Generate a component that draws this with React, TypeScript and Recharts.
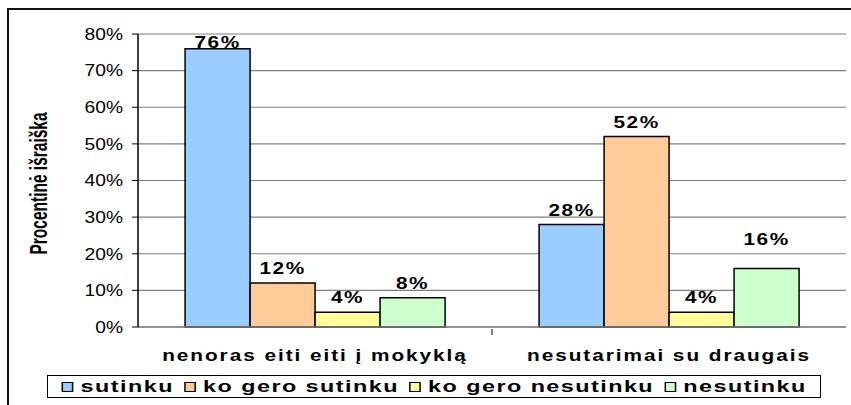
import React from 'react';
import { BarChart, Bar, XAxis, YAxis, CartesianGrid, Legend, LabelList } from 'recharts';

const categories = ['nenoras eiti eiti į mokyklą', 'nesutarimai su draugais'];
const seriesNames = ['sutinku', 'ko gero sutinku', 'ko gero nesutinku', 'nesutinku'];
const sutinku = [76, 28];
const koGeroSutinku = [12, 52];
const koGeroNesutinku = [4, 4];
const nesutinku = [8, 16];
const yTicks = [0, 10, 20, 30, 40, 50, 60, 70, 80];
const yAxisTitle = 'Procentinė išraiška';

// styling only
const colors = ['#99CCFF', '#FFCC99', '#FFFF99', '#CCFFCC'];
const labelGap = [
  [1, 8],
  [9, 9],
  [9, 9],
  [9, 23],
];

const seriesValues = [sutinku, koGeroSutinku, koGeroNesutinku, nesutinku];
const data = categories.map((c, i) => {
  const row: Record<string, string | number> = { name: c };
  seriesNames.forEach((s, j) => {
    row[s] = seriesValues[j][i];
  });
  return row;
});

const FONT = 'Arial, "Liberation Sans", Helvetica, sans-serif';
const SX = 1.3;

const XTick = (props: any) => {
  const { x, y, payload, index } = props;
  const half = payload && typeof payload.offset === 'number' ? payload.offset : 0;
  return (
    <g>
      {index < categories.length - 1 && half > 0 ? (
        <line x1={x + half} x2={x + half} y1={y - 8} y2={y - 2} stroke="#000" strokeWidth={1} />
      ) : null}
      <g transform={`translate(${x},${y + 24}) scale(${SX},1)`}>
        <text
          x={0}
          y={0}
          textAnchor="middle"
          fontFamily={FONT}
          fontWeight="bold"
          fontSize={16}
          letterSpacing={1.5}
          fill="#000"
        >
          {payload.value}
        </text>
      </g>
    </g>
  );
};

const YTick = (props: any) => {
  const { x, y, payload } = props;
  return (
    <g transform={`translate(${x},${y}) scale(1.2,1)`}>
      <text x={0} y={0} dy="0.36em" textAnchor="end" fontFamily={FONT} fontSize={16} fill="#000">
        {`${payload.value}%`}
      </text>
    </g>
  );
};

const YTitle = (props: any) => {
  const { viewBox } = props;
  const cy = viewBox.y + viewBox.height / 2 + 3;
  return (
    <g transform={`translate(39,${cy}) scale(1.5,1) rotate(-90)`}>
      <text
        x={0}
        y={0}
        dy="0.36em"
        textAnchor="middle"
        fontFamily={FONT}
        fontWeight="bold"
        fontSize={15.5}
        fill="#000"
      >
        {yAxisTitle}
      </text>
    </g>
  );
};

const makeLabel = (seriesIdx: number) => (props: any) => {
  const { x, y, width, value, index } = props;
  const gap = labelGap[seriesIdx][index];
  return (
    <g transform={`translate(${x + width / 2},${y - gap}) scale(${SX},1)`}>
      <text
        x={0}
        y={0}
        textAnchor="middle"
        fontFamily={FONT}
        fontWeight="bold"
        fontSize={16}
        letterSpacing={1.2}
        fill="#000"
      >
        {`${value}%`}
      </text>
    </g>
  );
};

const LegendContent = () => (
  <div
    style={{
      border: '1px solid #000',
      width: 774,
      height: 23,
      boxSizing: 'border-box',
      display: 'flex',
      alignItems: 'center',
      justifyContent: 'center',
      background: '#fff',
      overflow: 'hidden',
    }}
  >
    <div
      style={{
        display: 'flex',
        alignItems: 'center',
        transform: 'scaleX(1.46)',
        transformOrigin: 'center',
        fontFamily: FONT,
        fontWeight: 'bold',
        fontSize: 16,
        letterSpacing: 1,
        whiteSpace: 'nowrap',
        lineHeight: '18px',
      }}
    >
      {seriesNames.map((s, i) => (
        <span key={s} style={{ display: 'flex', alignItems: 'center', marginRight: i < 3 ? 7 : 0 }}>
          <span
            style={{
              display: 'inline-block',
              width: 8,
              height: 10,
              border: '1px solid #000',
              background: colors[i],
              marginRight: 5,
              boxSizing: 'border-box',
            }}
          />
          {s}
        </span>
      ))}
    </div>
  </div>
);

export default function App() {
  return (
    <div style={{ position: 'absolute', left: 0, top: 0, width: 851, height: 405, background: '#fff', overflow: 'hidden' }}>
      <div
        style={{
          position: 'absolute',
          left: 7,
          top: 8,
          width: 900,
          height: 500,
          borderTop: '2px solid #111',
          borderLeft: '2px solid #111',
        }}
      />
      <div style={{ position: 'absolute', left: 0, top: 0 }}>
        <BarChart
          width={851}
          height={405}
          data={data}
          margin={{ top: 34, right: 5, left: 0, bottom: 0 }}
          barCategoryGap="13.3%"
          barGap={0}
        >
          <CartesianGrid vertical={false} stroke="#808080" strokeWidth={1.2} />
          <XAxis
            dataKey="name"
            height={78}
            tick={<XTick />}
            tickLine={false}
            tickSize={8}
            axisLine={{ stroke: '#808080', strokeWidth: 1.5 }}
            interval={0}
          />
          <YAxis
            width={138}
            domain={[0, 80]}
            ticks={yTicks}
            interval={0}
            tick={<YTick />}
            tickLine={{ stroke: '#000' }}
            tickSize={6}
            tickMargin={9}
            axisLine={{ stroke: '#000', strokeWidth: 1.5 }}
            label={<YTitle />}
          />
          <YAxis
            yAxisId="right"
            orientation="right"
            width={0}
            domain={[0, 80]}
            tick={false}
            tickLine={false}
            axisLine={{ stroke: '#808080', strokeWidth: 1.5 }}
          />
          {seriesNames.map((s, i) => (
            <Bar key={s} dataKey={s} fill={colors[i]} stroke="#000" strokeWidth={1.5} isAnimationActive={false}>
              <LabelList dataKey={s} content={makeLabel(i)} />
            </Bar>
          ))}
          <Legend
            layout="horizontal"
            verticalAlign="middle"
            align="center"
            wrapperStyle={{ position: 'absolute', left: 47, top: 375, width: 774 }}
            content={<LegendContent />}
          />
        </BarChart>
      </div>
    </div>
  );
}
